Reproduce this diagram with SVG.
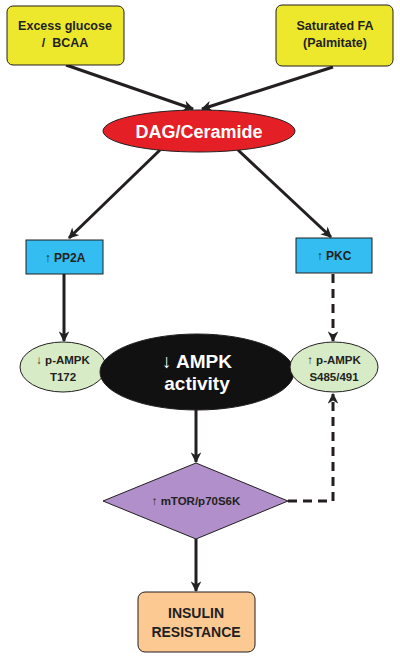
<svg xmlns="http://www.w3.org/2000/svg" width="400" height="658" viewBox="0 0 400 658">
<defs>
<marker id="ah" viewBox="0 0 10 10" refX="9" refY="5" markerWidth="3.6" markerHeight="3.6" orient="auto" markerUnits="strokeWidth">
<path d="M0,0 L10,5 L0,10 L3,5 z" fill="#222"/>
</marker>
<style>
text{font-family:"Liberation Sans",Arial,sans-serif;font-weight:bold;text-anchor:middle;fill:#231f20}
.node{stroke:#231f20;stroke-width:1}
.ln{stroke:#231f20;stroke-width:3;fill:none}
.dash{stroke-dasharray:9 6}
</style>
</defs>
<rect width="400" height="658" fill="#fff"/>
<g id="connectors">
<line class="ln" x1="66" y1="65" x2="193" y2="109" marker-end="url(#ah)"/>
<line class="ln" x1="333" y1="67" x2="202" y2="109" marker-end="url(#ah)"/>
<line class="ln" x1="160" y1="150" x2="69" y2="238" marker-end="url(#ah)"/>
<line class="ln" x1="238" y1="150" x2="331" y2="237" marker-end="url(#ah)"/>
<line class="ln" x1="64" y1="274" x2="64" y2="341" marker-end="url(#ah)"/>
<line class="ln dash" x1="333" y1="274" x2="333" y2="341" marker-end="url(#ah)"/>
<line class="ln" x1="196" y1="410" x2="196" y2="462" marker-end="url(#ah)"/>
<path class="ln dash" d="M288,501 H333 V394" marker-end="url(#ah)"/>
<line class="ln" x1="196" y1="539" x2="196" y2="591" marker-end="url(#ah)"/>
</g>
<g id="glucose">
<rect class="node" x="7" y="6" width="117" height="59" rx="6" fill="#ede82b"/>
<text x="65" y="30" font-size="12.5">Excess glucose</text>
<text x="65" y="47" font-size="12.5">/&#160;&#160;BCAA</text>
</g>
<g id="fa">
<rect class="node" x="276" y="5" width="117" height="61" rx="6" fill="#ede82b"/>
<text x="335" y="30" font-size="12.5">Saturated FA</text>
<text x="335" y="47" font-size="12.5">(Palmitate)</text>
</g>
<g id="dag">
<ellipse class="node" cx="199" cy="131" rx="96" ry="21" fill="#e41f26"/>
<text x="199" y="138" font-size="18" style="fill:#fff">DAG/Ceramide</text>
</g>
<g id="pp2a">
<rect class="node" x="26" y="240" width="77" height="34" fill="#34bdf0"/>
<text x="65" y="262" font-size="12">↑ PP2A</text>
</g>
<g id="pkc">
<rect class="node" x="296" y="238" width="76" height="35" fill="#34bdf0"/>
<text x="334" y="260" font-size="12">↑ PKC</text>
</g>
<g id="pampk-t172">
<ellipse class="node" cx="63" cy="367" rx="43" ry="25" fill="#d7ebc7"/>
<text x="63" y="364" font-size="11.5">↓ p-AMPK</text>
<text x="63" y="381" font-size="11.5">T172</text>
</g>
<g id="ampk">
<ellipse class="node" cx="197" cy="372" rx="97" ry="38" fill="#111"/>
<text x="197" y="368" font-size="19" style="fill:#fff">↓ AMPK</text>
<text x="197" y="390" font-size="19" style="fill:#fff">activity</text>
</g>
<g id="pampk-s485">
<ellipse class="node" cx="334" cy="367" rx="44" ry="25" fill="#d7ebc7"/>
<text x="334" y="364" font-size="11.5">↑ p-AMPK</text>
<text x="334" y="381" font-size="11.5">S485/491</text>
</g>
<g id="mtor">
<polygon class="node" points="196,463 288,501 196,539 103,501" fill="#b08fca"/>
<text x="196" y="505" font-size="11.5">↑ mTOR/p70S6K</text>
</g>
<g id="insulin">
<rect class="node" x="138" y="592" width="117" height="60" rx="7" fill="#fcc993"/>
<text x="196" y="618" font-size="14">INSULIN</text>
<text x="196" y="637" font-size="14">RESISTANCE</text>
</g>
</svg>
